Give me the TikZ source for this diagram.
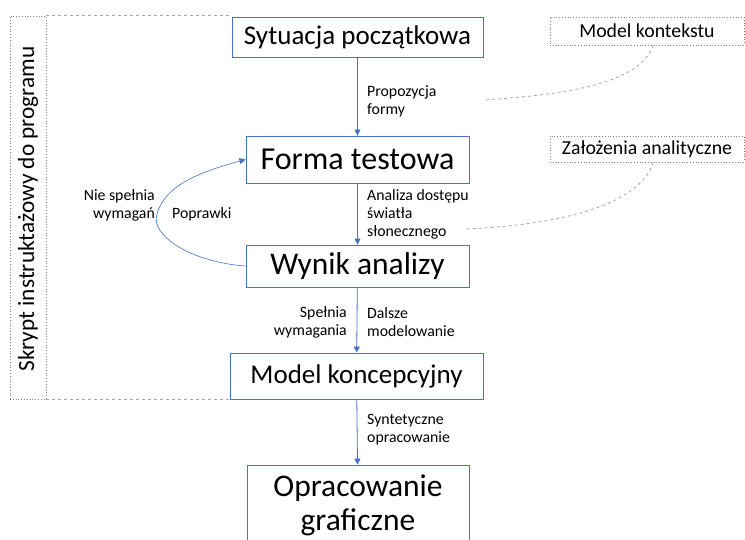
\documentclass[tikz,border=0pt]{standalone}
\usepackage{fontspec}
\setmainfont{Carlito}
\usetikzlibrary{arrows.meta}
\definecolor{boxblue}{HTML}{4472C4}
\definecolor{dgrey}{HTML}{A6A6A6}
\definecolor{dotgrey}{HTML}{808080}
\begin{document}
\begin{tikzpicture}[x=1pt,y=-1pt,
  stepbox/.style={draw=boxblue,line width=0.9pt,fill=white,inner sep=0pt,align=center},
  sidebox/.style={draw=dotgrey,dotted,line width=0.8pt,inner sep=0pt,align=center},
  flow/.style={draw=boxblue,line width=0.8pt,-{Triangle[width=6pt,length=6pt]}},
  lbl/.style={font=\fontsize{15.8}{18}\selectfont,inner sep=0pt,align=left},
  lblr/.style={font=\fontsize{15.8}{18}\selectfont,inner sep=0pt,align=right},
  link/.style={draw=dgrey,dashed,line width=0.8pt}]
\useasboundingbox (0,0) rectangle (745,539);
\clip (0,0) rectangle (745,539);
% left dotted box
\node[sidebox,minimum width=36pt,minimum height=383pt] (skrypt) at (28,207.5) {};
\node[rotate=90,font=\fontsize{23.3}{26}\selectfont,inner sep=0pt] (skryptt) at (28,209) {Skrypt instruktażowy do programu};
% boxes
\node[stepbox,minimum width=251pt,minimum height=40pt,font=\fontsize{27}{30}\selectfont] (syt) at (357.5,37) {Sytuacja początkowa};
\node[stepbox,minimum width=223pt,minimum height=47pt,font=\fontsize{32}{36}\selectfont] (forma) at (357.5,159.5) {Forma testowa};
\node[stepbox,minimum width=223pt,minimum height=42pt,font=\fontsize{31.5}{34}\selectfont] (wynik) at (357.5,266) {Wynik analizy};
\node[stepbox,minimum width=253pt,minimum height=46pt,font=\fontsize{27}{30}\selectfont] (model) at (356.5,376) {Model koncepcyjny};
\node[stepbox,minimum width=222pt,minimum height=80pt,font=\fontsize{31.5}{34}\selectfont] (oprac) at (358,505) {Opracowanie\\graficzne};
% dashed outline
\draw[link] (skrypt.north east) -- (skrypt.north east -| syt.west);
\draw[link] (skrypt.south east) -- (skrypt.south east -| model.west);
% side boxes
\node[sidebox,minimum width=194pt,minimum height=28pt,font=\fontsize{19.8}{22}\selectfont] (kont) at (647,31) {Model kontekstu};
\node[sidebox,minimum width=194pt,minimum height=26pt,font=\fontsize{19.8}{22}\selectfont] (zal) at (647,149) {Założenia analityczne};
% arrows
\draw[flow] (syt) -- (forma);
\draw[flow] (forma) -- (wynik);
\draw[flow] (wynik) -- (model);
\draw[flow] (model) -- (oprac);
\draw[draw=boxblue,line width=0.6pt,-{Triangle[width=6pt,length=6pt]}] (wynik.west) .. controls (190,262) and (150,235) .. (157,214) .. controls (165,185) and (200,172) .. (forma.west);
% labels
\coordinate (c1) at (483,100);
\coordinate (c2) at (465,229);
\node[lbl,anchor=west] (l1) at (367,101.5) {Propozycja\\formy};
\node[lbl,anchor=west] (l2) at (367,214) {Analiza dostępu\\światła\\słonecznego};
\node[lblr,anchor=east] (l3) at (155,205) {Nie spełnia\\wymagań};
\node[lbl,anchor=west] (l4) at (172,214) {Poprawki};
\node[lblr,anchor=east] (l5) at (347,322) {Spełnia\\wymagania};
\node[lbl,anchor=west] (l6) at (367,322) {Dalsze\\modelowanie};
\node[lbl,anchor=west] (l7) at (367,430) {Syntetyczne\\opracowanie};
% dashed links
\draw[link] (kont.south -| 653,0) .. controls (640,85) and (560,95) .. (c1);
\draw[link] (zal.south -| 653,0) .. controls (640,205) and (560,225) .. (c2);
\end{tikzpicture}
\end{document}
